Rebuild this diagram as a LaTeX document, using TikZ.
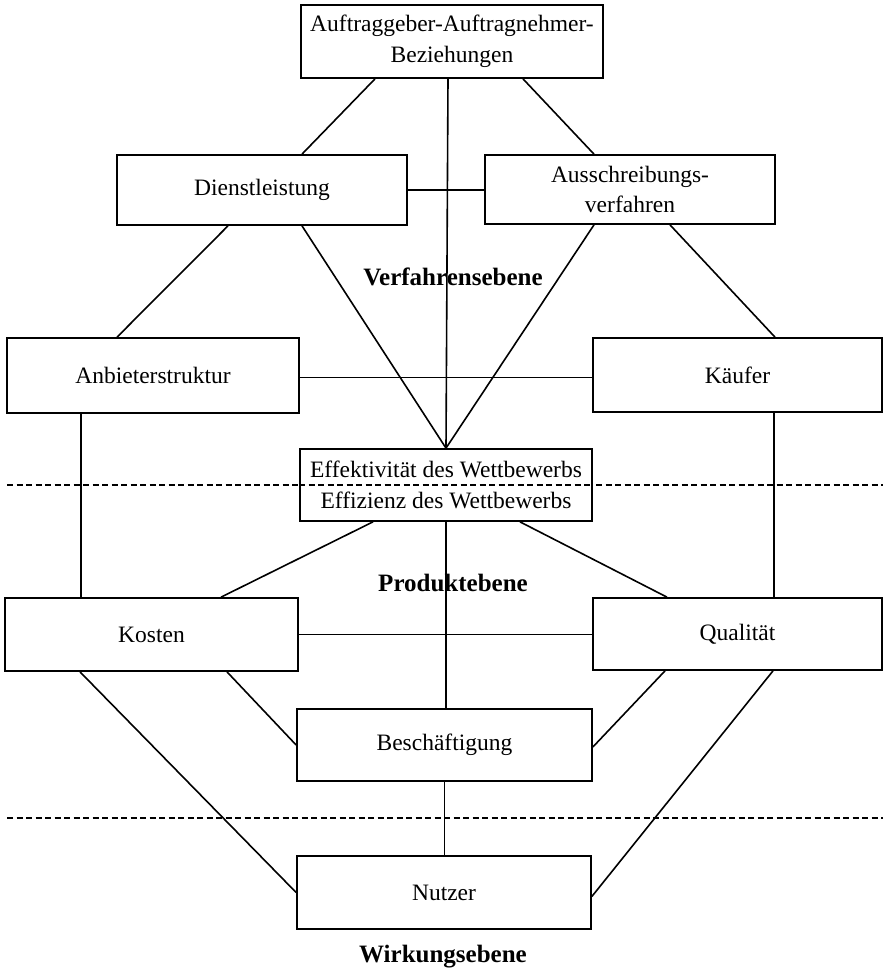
\documentclass[tikz,border=0pt]{standalone}
\usepackage{fontspec}
\setmainfont{Liberation Serif}
\usetikzlibrary{calc}

\tikzset{
  box/.style={draw, line width=1.7pt, inner sep=0pt, align=center,
    font=\fontsize{23.5}{30.5}\selectfont},
  link/.style={line width=1.6pt},
  level/.style={line width=1.3pt, dash pattern=on 6pt off 3.5pt},
  levellabel/.style={font=\fontsize{25}{28}\selectfont\bfseries, inner sep=0pt}
}

\begin{document}
\begin{tikzpicture}[x=1pt,y=-1pt]
  \useasboundingbox (0,0) rectangle (883,970);

  % level separators
  \coordinate (d1l) at (7,485);
  \coordinate (d1r) at (883,485);
  \coordinate (d2l) at (7,818);
  \coordinate (d2r) at (883,818);
  \draw[level] (d1l) -- (d1r);
  \draw[level] (d2l) -- (d2r);

  % boxes
  \node[box, minimum width=302, minimum height=73] (T) at (452,41.5)
    {Auftraggeber-Auftragnehmer-\\Beziehungen};
  \node[box, minimum width=290, minimum height=70] (D) at (262,190) {Dienstleistung};
  \node[box, minimum width=290, minimum height=69] (A) at (630,189.5)
    {Ausschreibungs-\\verfahren};
  \node[box, minimum width=292, minimum height=75] (An) at (153,375.5) {Anbieterstruktur};
  \node[box, minimum width=289, minimum height=74] (K) at (737.5,375) {Käufer};
  \node[box, minimum width=292, minimum height=72, fill=white] (E) at (446,485)
    {Effektivität des Wettbewerbs\\Effizienz des Wettbewerbs};
  \node[box, minimum width=293, minimum height=73] (Ko) at (151.5,634.5) {Kosten};
  \node[box, minimum width=289, minimum height=72] (Q) at (737.5,634) {Qualität};
  \node[box, minimum width=295, minimum height=72] (B) at (444.5,745) {Beschäftigung};
  \node[box, minimum width=294, minimum height=73] (N) at (444,892.5) {Nutzer};

  % the dashed separator shows through the middle box
  \draw[level] (E.west |- d1l) -- (E.east |- d1l);

  % level labels
  \node[levellabel] (lv1) at (453,277) {Verfahrensebene};
  \node[levellabel] (lv2) at (453,583) {Produktebene};
  \node[levellabel] (lv3) at (443,957) {Wirkungsebene};

  % connectors
  \draw[link] ([xshift=-77pt]T.south) -- ([xshift=40pt]D.north);
  \draw[link] ([xshift=71pt]T.south) -- ([xshift=-36pt]A.north);
  \draw[link] ([xshift=-4pt]T.south) -- (E.north);
  \draw[link] (D.east) -- (D.east -| A.west);
  \draw[link] ([xshift=-34pt]D.south) -- ([xshift=-36pt]An.north);
  \draw[link] ([xshift=40pt]D.south) -- (E.north);
  \draw[link] ([xshift=-36pt]A.south) -- (E.north);
  \draw[link] ([xshift=40pt]A.south) -- ([xshift=37.5pt]K.north);
  \draw[link] ([yshift=-2pt]An.east) -- ([yshift=-2pt]An.east -| K.west);
  \draw[link] ([xshift=-72pt]An.south) -- ([xshift=-72pt]An.south |- Ko.north);
  \draw[link] ([xshift=36.5pt]K.south) -- ([xshift=36.5pt]K.south |- Q.north);
  \draw[link] ([xshift=-73pt]E.south) -- ([xshift=69.5pt]Ko.north);
  \draw[link] ([xshift=74pt]E.south) -- ([xshift=-70.5pt]Q.north);
  \draw[link] (E.south) -- (E.south |- B.north);
  \draw[link] (Ko.east) -- (Ko.east -| Q.west);
  \draw[link] ([xshift=75.5pt]Ko.south) -- (B.west);
  \draw[link] ([xshift=-72.5pt]Q.south) -- ([yshift=-2pt]B.east);
  \draw[link] ([xshift=-71.5pt]Ko.south) -- (N.west);
  \draw[link] ([xshift=35.5pt]Q.south) -- ([yshift=-4pt]N.east);
  \draw[link] (B.south) -- (B.south |- N.north);
\end{tikzpicture}
\end{document}
